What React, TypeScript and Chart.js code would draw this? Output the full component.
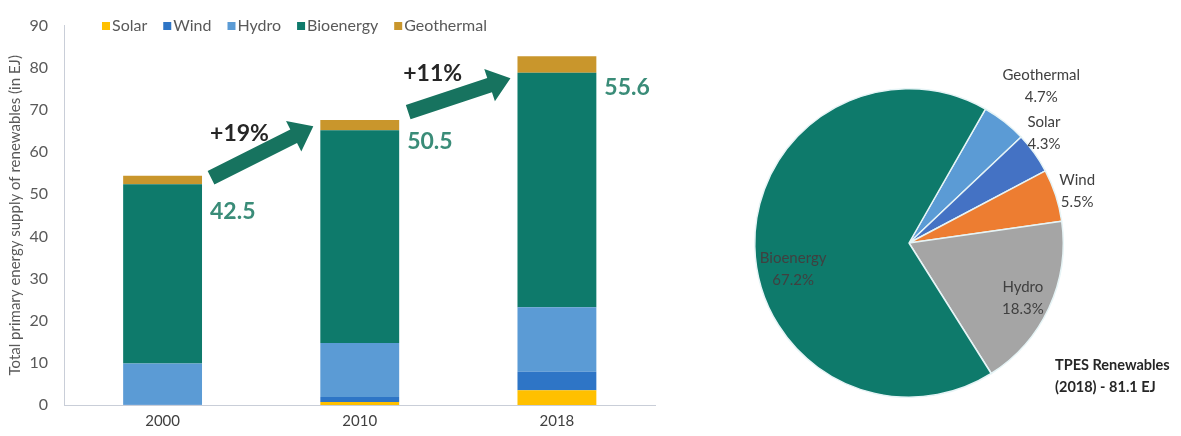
import React, { useEffect, useRef } from "react";
import { Chart, registerables } from "chart.js";

Chart.register(...registerables);

// ---------- Data ----------
const years = ["2000", "2010", "2018"];
const seriesNames = ["Solar", "Wind", "Hydro", "Bioenergy", "Geothermal"];
const solar = [0.02, 0.7, 3.5];
const wind = [0.05, 1.2, 4.4];
const hydro = [9.8, 12.8, 15.3];
const bioenergy = [42.5, 50.5, 55.6];
const geothermal = [2.0, 2.4, 3.9];
const seriesColors = ["#FFC000", "#2E75C6", "#5B9BD5", "#0E7A6B", "#C9962C"];

const yMin = 0;
const yMax = 90;
const yStep = 10;
const yTitle = "Total primary energy supply of renewables (in EJ)";

// growth annotations between bars
const growthLabels = ["+19%", "+11%"];
const growthLabelX = [0.39, 1.37]; // category-index position
const growthLabelY = [64.5, 78.7]; // value position
const arrowFromY = [53.9, 69.5];
const arrowToY = [66.1, 77.5];
// bioenergy value labels next to bars
const bioLabelY = [45.9, 62.6, 75.4];

// pie (2018)
const pieLabels = ["Geothermal", "Solar", "Wind", "Hydro", "Bioenergy"];
const pieShares = [4.7, 4.3, 5.5, 18.3, 67.2];
const pieColors = ["#5B9BD5", "#4472C4", "#ED7D31", "#A5A5A5", "#0E7A6B"];
const pieRotation = 29.7;
const pieLabelRadius = [1.33, 1.13, 1.14, 0.82, 0.77];
const pieLabelAngleShift = [2, -3.6, 1, 1, -11.4];
const pieNote = ["TPES Renewables", "(2018) - 81.1 EJ"];

const FONT = "Lato, 'Open Sans', sans-serif";
Chart.defaults.font.family = FONT;

const barAnnotations = {
  id: "barAnnotations",
  afterDatasetsDraw(chart: any) {
    const ctx = chart.ctx as CanvasRenderingContext2D;
    const xs = chart.scales.x;
    const ys = chart.scales.y;
    const meta = chart.getDatasetMeta(0);
    const halfW = (i: number) => (meta.data[i] as any).width / 2;
    const cx = (i: number) => xs.getPixelForValue(i);

    // custom legend
    ctx.save();
    ctx.font = `16px ${FONT}`;
    ctx.textBaseline = "middle";
    let lx = 102;
    const ly = 26;
    chart.data.datasets.forEach((ds: any) => {
      ctx.fillStyle = ds.backgroundColor;
      ctx.fillRect(lx, ly - 4, 8, 8);
      ctx.fillStyle = "#595959";
      ctx.textAlign = "left";
      ctx.fillText(ds.label, lx + 10, ly);
      lx += 10 + ctx.measureText(ds.label).width + 16;
    });
    ctx.restore();

    // arrows
    ctx.save();
    ctx.fillStyle = "#17735F";
    for (let i = 0; i < growthLabels.length; i++) {
      const x0 = cx(i) + halfW(i) + 9;
      const y0 = ys.getPixelForValue(arrowFromY[i]);
      const x1 = cx(i + 1) - halfW(i + 1) - 7;
      const y1 = ys.getPixelForValue(arrowToY[i]);
      const ang = Math.atan2(y1 - y0, x1 - x0);
      const len = Math.hypot(x1 - x0, y1 - y0);
      const shaft = 7.5;
      const head = 17;
      const headLen = 22;
      ctx.save();
      ctx.translate(x0, y0);
      ctx.rotate(ang);
      ctx.beginPath();
      ctx.moveTo(0, -shaft);
      ctx.lineTo(len - headLen, -shaft);
      ctx.lineTo(len - headLen, -head);
      ctx.lineTo(len, 0);
      ctx.lineTo(len - headLen, head);
      ctx.lineTo(len - headLen, shaft);
      ctx.lineTo(0, shaft);
      ctx.closePath();
      ctx.fill();
      ctx.restore();
    }
    ctx.restore();

    // growth labels
    ctx.save();
    ctx.font = `bold 23px ${FONT}`;
    ctx.fillStyle = "#262626";
    ctx.textAlign = "center";
    ctx.textBaseline = "middle";
    growthLabels.forEach((t, i) => {
      const x = xs.getPixelForValue(0) + growthLabelX[i] * (xs.getPixelForValue(1) - xs.getPixelForValue(0));
      ctx.fillText(t, x, ys.getPixelForValue(growthLabelY[i]));
    });
    ctx.restore();

    // bioenergy value labels
    ctx.save();
    ctx.font = `bold 23px ${FONT}`;
    ctx.fillStyle = "#3A8C78";
    ctx.textAlign = "left";
    ctx.textBaseline = "middle";
    bioenergy.forEach((v, i) => {
      ctx.fillText(v.toFixed(1), cx(i) + halfW(i) + 8, ys.getPixelForValue(bioLabelY[i]));
    });
    ctx.restore();
  },
};

const pieAnnotations = {
  id: "pieAnnotations",
  afterDatasetsDraw(chart: any) {
    const ctx = chart.ctx as CanvasRenderingContext2D;
    const meta = chart.getDatasetMeta(0);
    ctx.save();
    ctx.font = `15px ${FONT}`;
    ctx.fillStyle = "#404040";
    ctx.textAlign = "center";
    ctx.textBaseline = "middle";
    meta.data.forEach((arc: any, i: number) => {
      const p = arc.getProps(["x", "y", "startAngle", "endAngle", "outerRadius"], true);
      const a = (p.startAngle + p.endAngle) / 2 + (pieLabelAngleShift[i] * Math.PI) / 180;
      const r = p.outerRadius * pieLabelRadius[i];
      const lx = p.x + r * Math.cos(a);
      const lyy = p.y + r * Math.sin(a);
      ctx.fillText(pieLabels[i], lx, lyy - 11);
      ctx.fillText(pieShares[i].toFixed(1) + "%", lx, lyy + 11);
    });
    ctx.restore();

    ctx.save();
    ctx.font = `bold 14.5px ${FONT}`;
    ctx.fillStyle = "#262626";
    ctx.textAlign = "left";
    ctx.textBaseline = "middle";
    ctx.fillText(pieNote[0], chart.chartArea.right - 9, 365);
    ctx.fillText(pieNote[1], chart.chartArea.right - 9, 387);
    ctx.restore();
  },
};

export default function App() {
  const barRef = useRef<HTMLCanvasElement>(null);
  const pieRef = useRef<HTMLCanvasElement>(null);

  useEffect(() => {
    const values = [solar, wind, hydro, bioenergy, geothermal];
    const bar = new Chart(barRef.current!, {
      type: "bar",
      data: {
        labels: years,
        datasets: seriesNames.map((name, i) => ({
          label: name,
          data: values[i],
          backgroundColor: seriesColors[i],
          borderWidth: 0,
          categoryPercentage: 0.8,
          barPercentage: 0.5,
        })),
      },
      options: {
        animation: false,
        responsive: true,
        maintainAspectRatio: false,
        layout: { padding: { top: 25, right: 24.5, left: 0, bottom: 0 } },
        plugins: { legend: { display: false }, tooltip: { enabled: false } },
        scales: {
          x: {
            stacked: true,
            grid: { display: false, drawTicks: false },
            border: { display: true, color: "#C9CED8", width: 1 },
            ticks: { color: "#404040", font: { size: 15 }, padding: 7 },
            afterFit: (s: any) => {
              s.height = 31;
            },
          },
          y: {
            stacked: true,
            min: yMin,
            max: yMax,
            grid: { display: false, drawTicks: false },
            border: { display: true, color: "#C9CED8", width: 1 },
            ticks: { stepSize: yStep, color: "#595959", font: { size: 16 }, padding: 16 },
            title: {
              display: true,
              text: yTitle,
              color: "#595959",
              font: { size: 15 },
              padding: { top: 6, bottom: 0 },
            },
            afterFit: (s: any) => {
              s.width = 64;
            },
          },
        },
      },
      plugins: [barAnnotations],
    });

    const pie = new Chart(pieRef.current!, {
      type: "pie",
      data: {
        labels: pieLabels,
        datasets: [
          {
            data: pieShares,
            backgroundColor: pieColors,
            borderColor: "#E6F4F6",
            borderWidth: 1.5,
            hoverOffset: 0,
            offset: 0,
          },
        ],
      },
      options: {
        animation: false,
        responsive: true,
        maintainAspectRatio: false,
        rotation: pieRotation,
        layout: { padding: { left: 74, right: 117, top: 88, bottom: 38 } },
        plugins: { legend: { display: false }, tooltip: { enabled: false } },
      },
      plugins: [pieAnnotations],
    });

    return () => {
      bar.destroy();
      pie.destroy();
    };
  }, []);

  return (
    <div style={{ position: "absolute", left: 0, top: 0, width: 1181, height: 436, background: "#fff" }}>
      <div style={{ position: "absolute", left: 0, top: 0, width: 680, height: 436 }}>
        <canvas ref={barRef} />
      </div>
      <div style={{ position: "absolute", left: 680, top: 0, width: 501, height: 436 }}>
        <canvas ref={pieRef} />
      </div>
    </div>
  );
}
